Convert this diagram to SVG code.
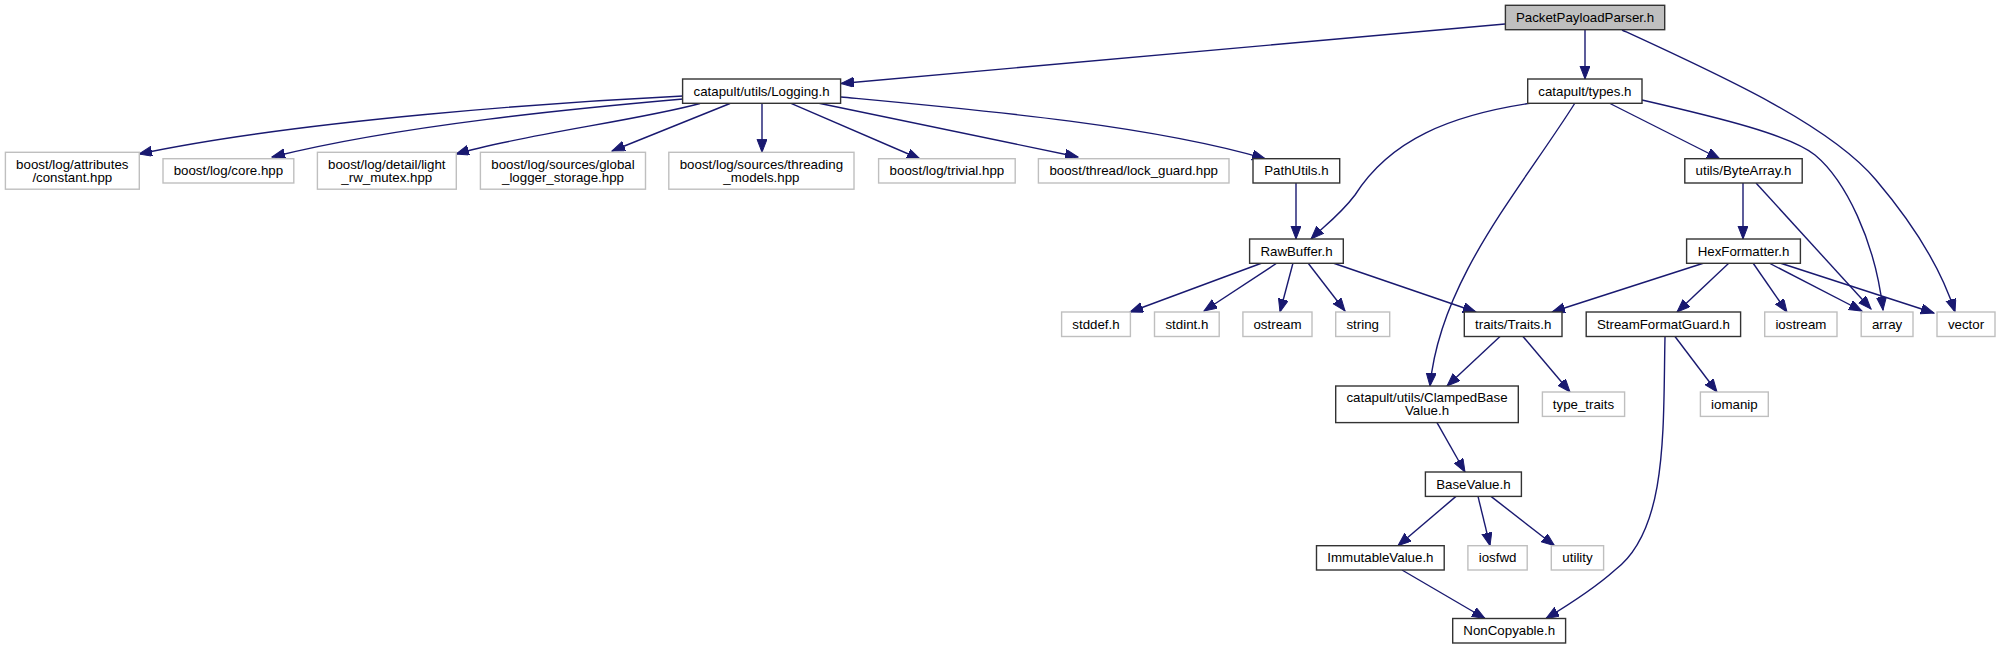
<svg xmlns="http://www.w3.org/2000/svg" width="2001" height="649" viewBox="0 0 2001 649">
<defs>
<style>
.n rect{fill:#fff;stroke:#333;stroke-width:1.4}
.x rect{fill:#fff;stroke:#bfbfbf;stroke-width:1.4}
.r rect{fill:#bfbfbf;stroke:#333;stroke-width:1.4}
text{font-family:"Liberation Sans",Arial,Helvetica,sans-serif;font-size:13.3px;fill:#000;text-anchor:middle}
.e path{fill:none;stroke:#191970;stroke-width:1.4;marker-end:url(#ah)}
</style>
<marker id="ah" markerWidth="14" markerHeight="11" refX="13" refY="5" orient="auto" markerUnits="userSpaceOnUse"><path d="M0,0 L13,5 L0,10 z" fill="#191970" stroke="#191970" stroke-width="1"/></marker>
</defs>
<rect width="2001" height="649" fill="#fff"/>
<g id="edges" class="e">
<path d="M1505,24 L841,83.5"/>
<path d="M1585,30 L1585,79"/>
<path d="M1622,30 C1720,75 1830,125 1876,180 C1910,220 1940,265 1955,312"/>
<path d="M1532,103 C1450,115 1390,140 1355,195 C1340,215 1322,228 1311,239"/>
<path d="M1575,103 C1520,190 1440,280 1430,386"/>
<path d="M1609,103 L1720,159"/>
<path d="M1642,100 C1720,118 1790,135 1815,155 C1845,180 1875,240 1883,310"/>
<path d="M683,96 C560,102 300,120 139,154"/>
<path d="M683,99 C580,108 400,125 272,157"/>
<path d="M700,103.5 C640,120 520,135 456,154"/>
<path d="M730,103.5 L612,151"/>
<path d="M762,103.3 L762,152.3"/>
<path d="M791,103.3 L920,159"/>
<path d="M819,103.3 L1078,157"/>
<path d="M841,97 C980,110 1150,125 1265,158.7"/>
<path d="M1296,183 L1296,239"/>
<path d="M1743,183 L1743,239"/>
<path d="M1756,183 L1871,309"/>
<path d="M1262,263 L1130,312"/>
<path d="M1277,263 L1204,311"/>
<path d="M1293,263 L1280,312"/>
<path d="M1308,263 L1345,311"/>
<path d="M1333,263 L1476,312"/>
<path d="M1704,263 L1552,312"/>
<path d="M1729,263 L1677,312"/>
<path d="M1753,263 L1787,312"/>
<path d="M1769,263 L1862,311"/>
<path d="M1780,263 L1934,313"/>
<path d="M1500,336.5 L1447,386"/>
<path d="M1523,336.5 L1570,392"/>
<path d="M1675,336.5 L1717,392"/>
<path d="M1665,337 C1663,430 1668,530 1615,570 C1595,588 1565,607 1546,618.5"/>
<path d="M1437,422.6 L1465,472"/>
<path d="M1456,496.4 L1398,545.7"/>
<path d="M1478,496.4 L1490,545.7"/>
<path d="M1491,496.4 L1554.5,545.7"/>
<path d="M1402,570 L1485,618.5"/>
</g>
<g id="n_ppp" class="r"><rect x="1505.4" y="5.3" width="159.3" height="24.4"/><text x="1585" y="22">PacketPayloadParser.h</text></g>
<g id="n_logging" class="n"><rect x="682.6" y="79" width="158" height="24.3"/><text x="761.6" y="95.6">catapult/utils/Logging.h</text></g>
<g id="n_types" class="n"><rect x="1527.7" y="79" width="114.3" height="24.3"/><text x="1584.9" y="95.6">catapult/types.h</text></g>
<g id="n_constant" class="x"><rect x="5.4" y="152.3" width="133.9" height="36.9"/><text x="72.3" y="168.8">boost/log/attributes</text><text x="72.3" y="181.8">/constant.hpp</text></g>
<g id="n_core" class="x"><rect x="163" y="158.7" width="130.8" height="24.3"/><text x="228.4" y="175.3">boost/log/core.hpp</text></g>
<g id="n_light" class="x"><rect x="317.4" y="152.3" width="138.9" height="36.9"/><text x="386.8" y="168.8">boost/log/detail/light</text><text x="386.8" y="181.8">_rw_mutex.hpp</text></g>
<g id="n_global" class="x"><rect x="480.4" y="152.3" width="165.1" height="36.9"/><text x="563" y="168.8">boost/log/sources/global</text><text x="563" y="181.8">_logger_storage.hpp</text></g>
<g id="n_threading" class="x"><rect x="668.8" y="152.3" width="185.2" height="36.9"/><text x="761.4" y="168.8">boost/log/sources/threading</text><text x="761.4" y="181.8">_models.hpp</text></g>
<g id="n_trivial" class="x"><rect x="878.6" y="158.7" width="136.6" height="24.3"/><text x="946.9" y="175.3">boost/log/trivial.hpp</text></g>
<g id="n_lockguard" class="x"><rect x="1038.4" y="158.7" width="190.6" height="24.3"/><text x="1133.7" y="175.3">boost/thread/lock_guard.hpp</text></g>
<g id="n_pathutils" class="n"><rect x="1253" y="158.7" width="86.7" height="24.3"/><text x="1296.4" y="175.3">PathUtils.h</text></g>
<g id="n_bytearray" class="n"><rect x="1684.8" y="158.7" width="117.4" height="24.3"/><text x="1743.5" y="175.3">utils/ByteArray.h</text></g>
<g id="n_rawbuffer" class="n"><rect x="1249.6" y="239" width="93.7" height="24.3"/><text x="1296.5" y="255.6">RawBuffer.h</text></g>
<g id="n_hex" class="n"><rect x="1686.6" y="239" width="113.8" height="24.3"/><text x="1743.5" y="255.6">HexFormatter.h</text></g>
<g id="n_stddef" class="x"><rect x="1061.6" y="312" width="68.8" height="24.5"/><text x="1096" y="328.7">stddef.h</text></g>
<g id="n_stdint" class="x"><rect x="1154.5" y="312" width="64.7" height="24.5"/><text x="1186.9" y="328.7">stdint.h</text></g>
<g id="n_ostream" class="x"><rect x="1242.9" y="312" width="69.1" height="24.5"/><text x="1277.5" y="328.7">ostream</text></g>
<g id="n_string" class="x"><rect x="1335.7" y="312" width="54" height="24.5"/><text x="1362.7" y="328.7">string</text></g>
<g id="n_traits" class="n"><rect x="1464.3" y="312" width="97.7" height="24.5"/><text x="1513.2" y="328.7">traits/Traits.h</text></g>
<g id="n_sfg" class="n"><rect x="1586.2" y="312" width="154.4" height="24.5"/><text x="1663.4" y="328.7">StreamFormatGuard.h</text></g>
<g id="n_iostream" class="x"><rect x="1764.7" y="312" width="72.3" height="24.5"/><text x="1800.9" y="328.7">iostream</text></g>
<g id="n_array" class="x"><rect x="1861.2" y="312" width="51.8" height="24.5"/><text x="1887.1" y="328.7">array</text></g>
<g id="n_vector" class="x"><rect x="1937" y="312" width="58" height="24.5"/><text x="1966" y="328.7">vector</text></g>
<g id="n_clamped" class="n"><rect x="1335.7" y="386" width="182.6" height="36.6"/><text x="1427" y="402.3">catapult/utils/ClampedBase</text><text x="1427" y="415.3">Value.h</text></g>
<g id="n_typetraits" class="x"><rect x="1542.4" y="392" width="82.2" height="24.4"/><text x="1583.5" y="408.7">type_traits</text></g>
<g id="n_iomanip" class="x"><rect x="1700.4" y="392" width="67.9" height="24.4"/><text x="1734.4" y="408.7">iomanip</text></g>
<g id="n_basevalue" class="n"><rect x="1425.4" y="472" width="96" height="24.4"/><text x="1473.4" y="488.7">BaseValue.h</text></g>
<g id="n_immutable" class="n"><rect x="1316.5" y="545.7" width="127.7" height="24.3"/><text x="1380.4" y="562.3">ImmutableValue.h</text></g>
<g id="n_iosfwd" class="x"><rect x="1467.9" y="545.7" width="59.3" height="24.3"/><text x="1497.6" y="562.3">iosfwd</text></g>
<g id="n_utility" class="x"><rect x="1551.3" y="545.7" width="52.3" height="24.3"/><text x="1577.5" y="562.3">utility</text></g>
<g id="n_noncopyable" class="n"><rect x="1452.7" y="618.5" width="112.9" height="24.5"/><text x="1509.2" y="635.2">NonCopyable.h</text></g>
</svg>
